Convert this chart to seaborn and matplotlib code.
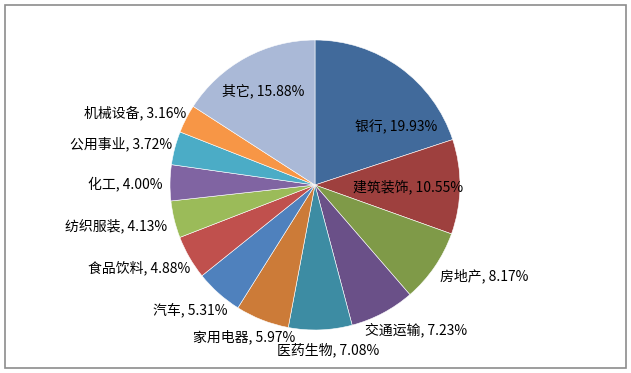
import matplotlib
matplotlib.use('Agg')
import matplotlib.pyplot as plt
import seaborn as sns
from matplotlib.patches import Rectangle

# 行业分布数据
industries = ['银行', '建筑装饰', '房地产', '交通运输', '医药生物', '家用电器', '汽车',
              '食品饮料', '纺织服装', '化工', '公用事业', '机械设备', '其它']
weights = [19.93, 10.55, 8.17, 7.23, 7.08, 5.97, 5.31, 4.88, 4.13, 4.00, 3.72, 3.16, 15.88]

colors = ['#416A9B', '#9E403E', '#7F9A48', '#6A5088', '#3D8CA3', '#CC7B38', '#4F81BD',
          '#C0504D', '#9BBB59', '#8064A2', '#4BACC6', '#F79646', '#AAB9D7']

# 标签位置 (以半径为单位, 相对圆心)
label_pos = [(0.56, 0.40), (0.64, -0.01), (1.17, -0.63), (0.70, -1.00), (0.09, -1.14),
             (-0.49, -1.05), (-0.86, -0.86), (-1.21, -0.57), (-1.37, -0.28), (-1.31, 0.01),
             (-1.34, 0.28), (-1.24, 0.50), (-0.36, 0.65)]

sns.set_style('white')
plt.rcParams['font.family'] = ['Noto Sans CJK SC', 'DejaVu Sans']

W, H = 631, 373
cx, cy, r = 315, 185, 145
fig = plt.figure(figsize=(W / 100, H / 100), dpi=100)
ax = fig.add_axes([0, 0, 1, 1])

ax.pie(weights, colors=colors, startangle=90, counterclock=False, radius=1,
       wedgeprops={'edgecolor': 'white', 'linewidth': 0.4})

for name, val, (x, y) in zip(industries, weights, label_pos):
    ax.text(x, y, f'{name}, {val:.2f}%', ha='center', va='center', fontsize=10, color='black')

ax.set_xlim(-cx / r, (W - cx) / r)
ax.set_ylim(-(H - cy) / r, cy / r)
ax.set_aspect('auto')
ax.set_axis_off()

# 外框
fig.patches.append(Rectangle((5 / W, 5 / H), 621 / W, 363 / H, transform=fig.transFigure,
                             fill=False, edgecolor='#8C8C8C', linewidth=1.2))

fig.savefig('out.png', dpi=100)
